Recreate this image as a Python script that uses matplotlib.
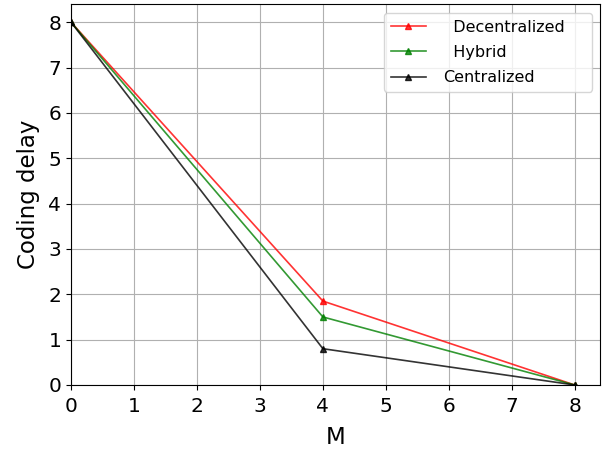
import numpy as np
import matplotlib
matplotlib.use('Agg')
import matplotlib.pyplot as plt

M = [0, 4, 8]
decentralized = [8, 1.85, 0]
hybrid = [8, 1.5, 0]
centralized = [8, 0.8, 0]

fig = plt.figure(figsize=(6.02, 4.50), dpi=100)
ax = fig.add_axes([71/602, 65/450, 529/602, 381/450])
ax.plot(M, decentralized, 'r-^', alpha=0.8, lw=1.2, markersize=5, label='  Decentralized    ')
ax.plot(M, hybrid, 'g-^', alpha=0.8, lw=1.2, markersize=5, label='  Hybrid')
ax.plot(M, centralized, 'k-^', alpha=0.8, lw=1.2, markersize=5, label='Centralized')
ax.set_xlim(0, 8.4)
ax.set_ylim(0, 8.4)
ax.set_xticks(np.arange(0, 9, 1))
ax.set_yticks(np.arange(0, 9, 1))
ax.tick_params(labelsize=14.5)
ax.tick_params(axis='x', pad=5)
ax.set_xlabel('M', fontsize=16.5, labelpad=7)
ax.set_ylabel('Coding delay', fontsize=16.5, labelpad=6)
ax.grid(True)
ax.legend(loc='upper right', fontsize=11.5, handlelength=2.2, handletextpad=1.1,
          labelspacing=0.65, bbox_to_anchor=(1.0, 0.997))
fig.savefig('out.png', dpi=100)
